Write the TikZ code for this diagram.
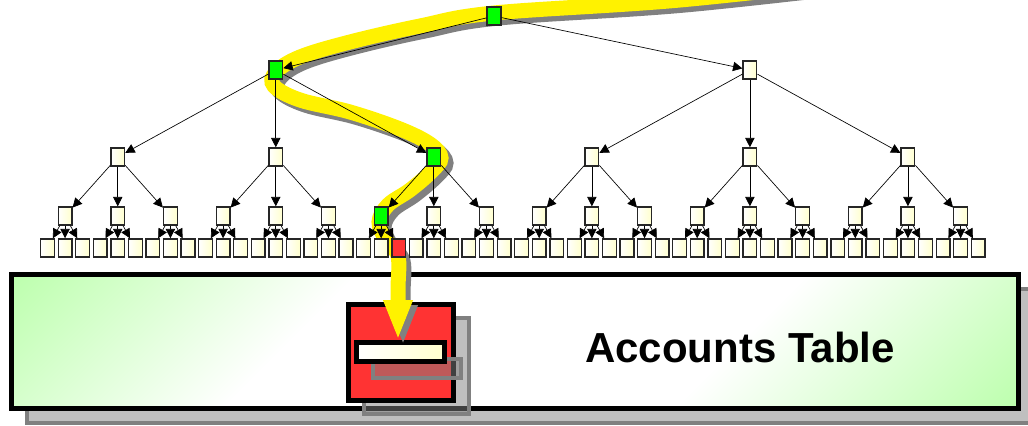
\documentclass[tikz,border=0pt]{standalone}
\usepackage{fontspec}
\setmainfont{Liberation Sans}
\usetikzlibrary{arrows.meta}

\definecolor{tablegreen}{RGB}{190,255,175}
\definecolor{leafcream}{RGB}{255,255,205}
\definecolor{hitred}{RGB}{255,51,51}
\pgfdeclareverticalshading{tablefade}{100bp}{color(0bp)=(tablegreen); color(15bp)=(tablegreen); color(36bp)=(white); color(64bp)=(white); color(85bp)=(tablegreen); color(100bp)=(tablegreen)}

\tikzset{
	page/.style={draw=black!85, line width=1pt, minimum width=10.3pt, minimum height=13.6pt, inner sep=0pt},
	leaf/.style={page, left color=white, right color=leafcream},
	hit/.style={page, fill=green},
	found/.style={page, fill=hitred},
	link/.style={line width=0.5pt, -{Triangle[length=7pt,width=7pt]}},
	shadebox/.style={draw=gray, line width=3pt, fill=gray, fill opacity=0.5},
	tablesize/.style={minimum width=755.1pt, minimum height=100.5pt, inner sep=0pt, outer sep=0pt},
	blocksize/.style={minimum width=78.75pt, minimum height=72pt, inner sep=0pt, outer sep=0pt},
	recsize/.style={minimum width=66pt, minimum height=14.25pt, inner sep=0pt, outer sep=0pt},
	route/.style={line width=11.25pt, -{Triangle[length=30pt,width=20pt]}},
}

\begin{document}
\begin{tikzpicture}[x=0.75pt, y=-0.75pt]
		\useasboundingbox (0,0) rectangle (1028,425);
		\node[tablesize, shadebox] (tableshade) at (530.1,355.5) {};
		\node[tablesize, draw, line width=3.75pt, shading=tablefade, shading angle=45] (table) at (515.1,341.5) {};
		\node[font=\fontsize{31.5}{36}\selectfont\bfseries] (tablename) at (740,347) {Accounts Table};
		\node[blocksize, shadebox] (blockshade) at (416.5,366) {};
		\node[blocksize, draw, line width=3.75pt, fill=hitred] (block) at (401,352) {};
		\node[recsize, shadebox] (recshade) at (416.5,368) {};
		\node[recsize, draw, line width=3.75pt, left color=white, right color=leafcream] (rec) at (400.5,352) {};
		\foreach \col/\off in {gray/5, yellow/0}
			\draw[route, \col, shift={(\off,\off)}] plot[smooth, tension=0.6] coordinates {(880,-22) (680,0) (494,13) (420,26) (350,42) (300,57) (276,72) (274,86) (300,100) (350,112) (400,129) (430,144) (441,158) (431,172) (410,190) (388,205) (379,222) (386,240) (398,256) (398,290) (398,340)};
		\node[hit] (r) at (494,16) {};
		\foreach \m in {1,2} {
			\ifnum\m=1 \def\kind{hit}\else\def\kind{leaf}\fi
			\node[\kind] (a\m) at ({47.5+17.56*(27*\m-14)},70) {};
			\draw[link] (r) -- (a\m);
		}
		\foreach \k in {1,...,6} {
			\pgfmathtruncatemacro\pid{(\k+2)/3}
			\ifnum\k=3 \def\kind{hit}\else\def\kind{leaf}\fi
			\node[\kind] (b\k) at ({47.5+17.56*(9*\k-5)},157) {};
			\draw[link] (a\pid) -- (b\k);
		}
		\foreach \j in {1,...,18} {
			\pgfmathtruncatemacro\pid{(\j+2)/3}
			\ifnum\j=7 \def\kind{hit}\else\def\kind{leaf}\fi
			\node[\kind] (c\j) at ({47.5+17.56*(3*\j-2)},216) {};
			\draw[link] (b\pid) -- (c\j);
		}
		\foreach \i in {1,...,54} {
			\pgfmathtruncatemacro\pid{(\i+2)/3}
			\ifnum\i=21 \def\kind{found}\else\def\kind{leaf}\fi
			\node[\kind] (d\i) at ({47.5+17.56*(\i-1)},248) {};
			\draw[link] (c\pid) -- (d\i);
		}
\end{tikzpicture}
\end{document}
